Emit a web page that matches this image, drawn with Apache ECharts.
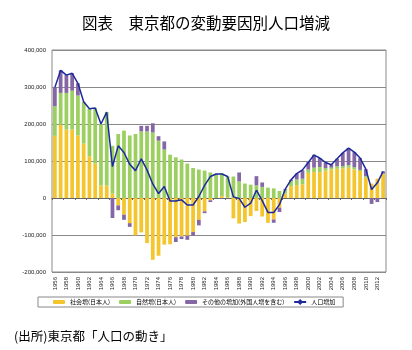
<!DOCTYPE html>
<html>
<head>
<meta charset="utf-8">
<script src="https://cdn.jsdelivr.net/npm/echarts@6/dist/echarts.min.js"></script>
<style>
  html, body { margin: 0; padding: 0; background: #fff; }
  #main { width: 412px; height: 350px; }
</style>
</head>
<body>
<div id="main"></div>
<script>
// 年（1956〜2013）
var years = [];
for (var y = 1956; y <= 2013; y++) { years.push(String(y)); }

// 社会増（日本人）
var socialJp = [168000, 198000, 185000, 185000, 169000, 147000, 113000, 93000, 34000, 34000,
  12000, -20000, -45000, -68000, -101000, -93000, -122000, -167000, -156000, -126000,
  -125000, -106000, -104000, -102000, -92000, -59000, -36000, -6000, 0, 5000,
  2000, -55000, -69000, -65000, -49000, -35000, -50000, -67000, -58000, -26000,
  12000, 32000, 35000, 37000, 68000, 70000, 70000, 74000, 77000, 79000,
  80000, 82000, 77000, 73000, 55000, 39000, 52000, 66000];

// 自然増（日本人）
var naturalJp = [80000, 86000, 99000, 105000, 108000, 113000, 128000, 150000, 166000, 198000,
  129000, 173000, 182000, 169000, 173000, 180000, 180000, 177000, 155000, 131000,
  117000, 110000, 104000, 93000, 81000, 77000, 74000, 69000, 63000, 62000,
  56000, 58000, 45000, 39000, 36000, 34000, 30000, 28000, 26000, 19000,
  10000, 14000, 15000, 15000, 9000, 12000, 14000, 7000, 5000, 7000,
  6000, 7000, 6000, 3000, 4000, 0, 0, 0];

// その他の増加（外国人増を含む）
var otherInc = [51000, 61000, 48000, 47000, 33000, 0, 0, 0, 0, 0,
  -54000, -13000, -14000, -10000, 0, 15000, 15000, 25000, 12000, 22000,
  0, -13000, -7000, -11000, -10000, -15000, -5000, -5000, 2000, -2000,
  0, 0, 24000, 0, 0, 25000, 12000, 0, -9000, -12000,
  2000, 3000, 16000, 23000, 20000, 35000, 24000, 15000, 9000, 20000,
  36000, 46000, 41000, 32000, 19000, -16000, -11000, 6000];

// 人口増加
var totalInc = [299000, 345000, 332000, 337000, 310000, 260000, 241000, 243000, 200000, 232000,
  85000, 141000, 123000, 91000, 74000, 106000, 76000, 38000, 12000, 31000,
  -8000, -8000, -5000, -19000, -19000, 4000, 34000, 58000, 65000, 65000,
  58000, 3000, -1000, -25000, -14000, 21000, -7000, -39000, -39000, -18000,
  24000, 49000, 66000, 76000, 96000, 116000, 108000, 96000, 90000, 106000,
  122000, 135000, 124000, 108000, 78000, 23000, 41000, 72000];

var seriesNames = ['社会増(日本人)', '自然増(日本人)', 'その他の増加(外国人増を含む)', '人口増加'];

var jpFont = '"Noto Sans CJK JP", sans-serif';
var lineColor = '#1c2a9c';

var myChart = echarts.init(document.getElementById('main'));

var option = {
  animation: false,
  backgroundColor: '#fff',
  textStyle: { fontFamily: jpFont },
  title: {
    text: '図表　東京都の変動要因別人口増減',
    left: 'center',
    top: 10,
    textStyle: { fontFamily: jpFont, fontSize: 15.5, fontWeight: 'normal', color: '#000' }
  },
  graphic: [{
    type: 'text',
    left: 14,
    top: 330,
    style: { text: '(出所)東京都「人口の動き」', font: '12.5px "Noto Sans CJK JP"', fill: '#000' }
  }],
  legend: {
    data: seriesNames,
    left: 38,
    top: 297,
    padding: [2, 8, 2, 15],
    itemGap: 9,
    itemWidth: 12,
    itemHeight: 4,
    borderColor: '#888',
    borderWidth: 1,
    textStyle: { fontFamily: jpFont, fontSize: 6, color: '#000' }
  },
  grid: {
    left: 52, right: 26, top: 50, bottom: 78,
    show: true, borderColor: '#8a8a8a', borderWidth: 1
  },
  xAxis: [{
    type: 'category',
    data: years,
    position: 'bottom',
    axisLine: { onZero: true, lineStyle: { color: '#666', width: 1 } },
    axisTick: { show: true, interval: 1, length: 2, lineStyle: { color: '#666' } },
    axisLabel: { show: false },
    splitLine: { show: false }
  }, {
    type: 'category',
    data: years,
    position: 'bottom',
    axisLine: { show: false, onZero: false },
    axisTick: { show: false },
    axisLabel: { interval: 1, rotate: 90, fontSize: 6, color: '#222', margin: 5, fontFamily: 'Arial' }
  }],
  yAxis: {
    type: 'value',
    min: -200000,
    max: 400000,
    interval: 100000,
    axisLine: { show: false },
    axisTick: { show: false },
    axisLabel: {
      fontSize: 6, color: '#222', margin: 6, fontFamily: 'Arial',
      formatter: function (v) { return v.toLocaleString('en-US'); }
    },
    splitLine: { lineStyle: { color: '#8a8a8a', width: 1 } }
  },
  series: [{
    name: seriesNames[0],
    type: 'bar',
    stack: 'inc',
    barCategoryGap: '35%',
    itemStyle: { color: '#f4c52c' },
    data: socialJp
  }, {
    name: seriesNames[1],
    type: 'bar',
    stack: 'inc',
    itemStyle: { color: '#9bcf5f' },
    data: naturalJp
  }, {
    name: seriesNames[2],
    type: 'bar',
    stack: 'inc',
    itemStyle: { color: '#8567a5' },
    data: otherInc
  }, {
    name: seriesNames[3],
    type: 'line',
    data: totalInc,
    z: 5,
    symbol: 'diamond',
    symbolSize: 5,
    lineStyle: { color: lineColor, width: 1.5 },
    itemStyle: { color: '#fff', borderColor: lineColor, borderWidth: 1 }
  }]
};

myChart.setOption(option);
</script>
</body>
</html>
